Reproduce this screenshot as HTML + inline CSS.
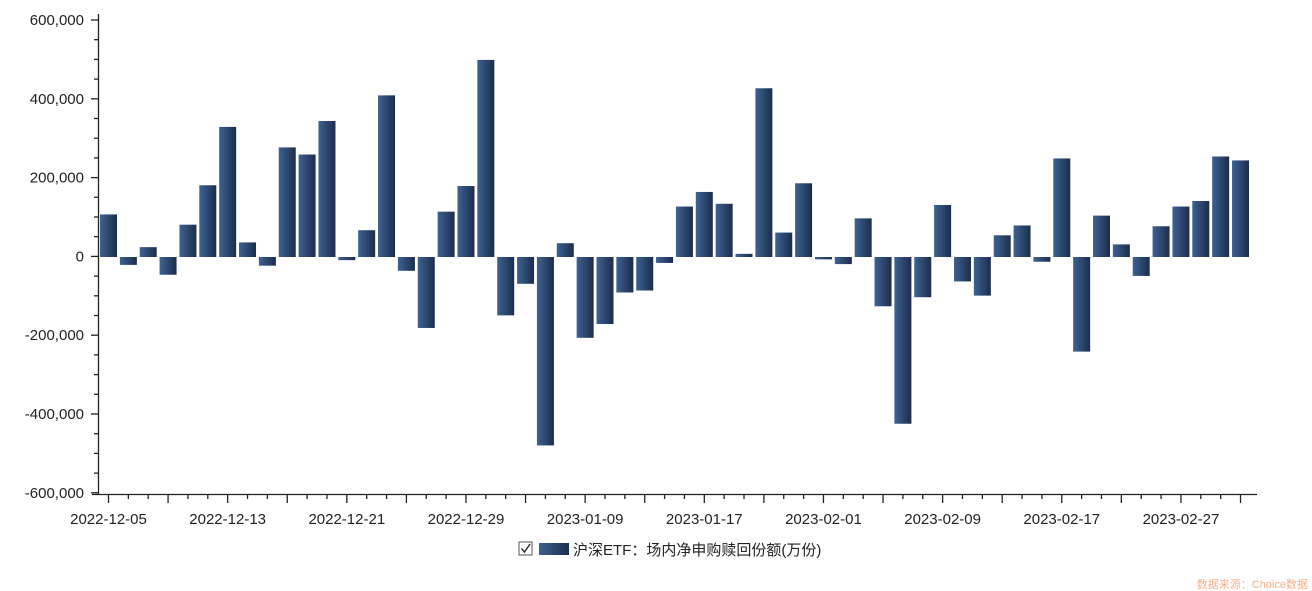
<!DOCTYPE html>
<html><head><meta charset="utf-8"><style>
html,body{margin:0;padding:0;background:#fff;}
svg{display:block;font-family:"Liberation Sans","Noto Sans CJK SC",sans-serif;}
</style></head><body>
<svg id="c" width="1312" height="591" xmlns="http://www.w3.org/2000/svg">
<defs><linearGradient id="g" x1="0" x2="1" y1="0" y2="0">
<stop offset="0" stop-color="#3d6292"/><stop offset="1" stop-color="#1b2d4c"/></linearGradient></defs>
<g id="bars"></g>
<g id="axes" stroke="#222" stroke-width="1.3" fill="none"></g>
<g id="labels" font-size="15" fill="#222"></g>
<rect x="519" y="542" width="13" height="13" fill="#fff" stroke="#555"/>
<path d="M521.5 548.5 L524.5 552 L530 544" stroke="#333" stroke-width="1.5" fill="none"/>
<rect x="539" y="543" width="30" height="12" fill="url(#g)"/>
<text x="573" y="555" font-size="15" fill="#222">沪深ETF：场内净申购赎回份额(万份)</text>
<text x="1308" y="588" font-size="11" fill="#f5b08a" text-anchor="end">数据来源：Choice数据</text>
</svg>
<script>
var v=[108,-20,25,-45,82,182,330,37,-22,278,260,345,-8,68,410,-35,-180,115,180,500,-148,-68,-478,35,-205,-170,-90,-85,-15,128,165,135,8,428,62,187,-6,-18,98,-125,-423,-102,132,-62,-98,55,80,-12,250,-240,105,32,-48,78,128,142,255,245];
var ns="http://www.w3.org/2000/svg",z=257,k=0.3942,pitch=19.86;
function el(p,t,a,tx){var e=document.createElementNS(ns,t);for(var n in a)e.setAttribute(n,a[n]);if(tx)e.textContent=tx;document.getElementById(p).appendChild(e);}
v.forEach(function(d,i){var x=100+i*pitch,h=Math.abs(d)*k;el("bars","rect",{x:x,y:d>0?z-h:z,width:17,height:h,fill:"url(#g)"});});
el("axes","line",{x1:98.5,y1:14,x2:98.5,y2:494});
el("axes","line",{x1:92,y1:494.5,x2:1257,y2:494.5});
for(var j=0;j<=24;j++){var y=20+j*19.7;el("axes","line",{x1:j%4==0?91:94,y1:y,x2:98,y2:y});
 if(j%4==0){var val=600-j*50;var s=val==0?"0":(val<0?"-":"")+Math.abs(val)+",000";el("labels","text",{x:84,y:y+5,"text-anchor":"end"},s);}}
var dl=["2022-12-05","2022-12-13","2022-12-21","2022-12-29","2023-01-09","2023-01-17","2023-02-01","2023-02-09","2023-02-17","2023-02-27"];
for(var i=0;i<58;i++){var x=108.5+i*pitch;el("axes","line",{x1:x,y1:495,x2:x,y2:i%3==0?503:499});
 if(i%6==0)el("labels","text",{x:x,y:524,"text-anchor":"middle"},dl[i/6]);}
</script>
</body></html>
